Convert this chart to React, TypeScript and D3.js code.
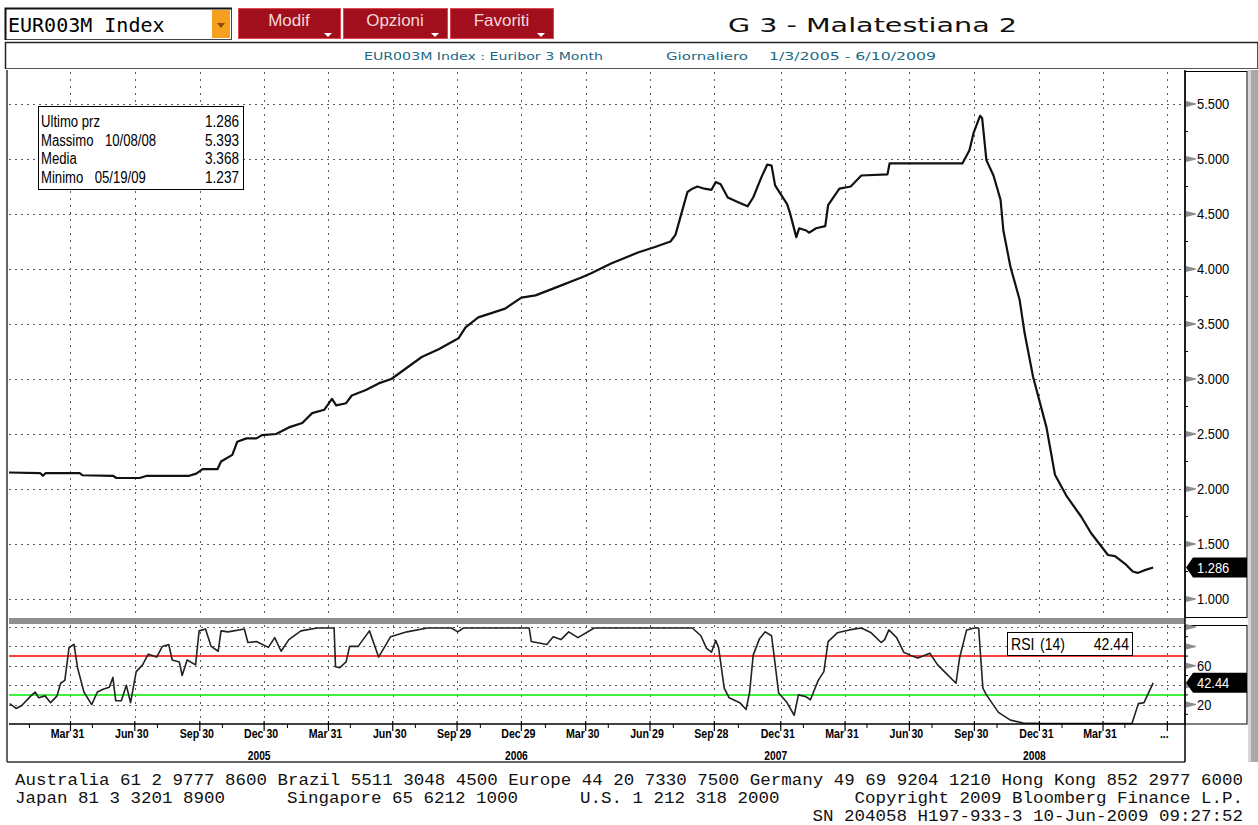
import * as d3 from "d3";

// EUR003M Index (Euribor 3 mesi), daily, 1/3/2005 - 6/10/2009
const priceData: [string, number][] = [
  ["2005-01-03", 2.15], ["2005-02-16", 2.145], ["2005-02-20", 2.12], ["2005-02-24", 2.145],
  ["2005-03-26", 2.145], ["2005-04-13", 2.145], ["2005-04-17", 2.125], ["2005-05-30", 2.12],
  ["2005-06-04", 2.1], ["2005-07-07", 2.1], ["2005-07-17", 2.12], ["2005-09-15", 2.12],
  ["2005-09-25", 2.14], ["2005-10-04", 2.18], ["2005-10-25", 2.18], ["2005-10-30", 2.25],
  ["2005-11-15", 2.31], ["2005-11-22", 2.43], ["2005-12-05", 2.46], ["2005-12-19", 2.46],
  ["2005-12-27", 2.49], ["2006-01-16", 2.5], ["2006-02-03", 2.56], ["2006-02-22", 2.6],
  ["2006-03-08", 2.69], ["2006-03-25", 2.72], ["2006-04-05", 2.82], ["2006-04-11", 2.76],
  ["2006-04-25", 2.78], ["2006-05-03", 2.85], ["2006-05-23", 2.9], ["2006-06-10", 2.96],
  ["2006-06-28", 3.0], ["2006-08-10", 3.2], ["2006-09-03", 3.27], ["2006-10-01", 3.37],
  ["2006-10-11", 3.47], ["2006-10-29", 3.56], ["2006-12-06", 3.64], ["2006-12-29", 3.74],
  ["2007-01-18", 3.76], ["2007-02-19", 3.84], ["2007-03-23", 3.92], ["2007-04-06", 3.96],
  ["2007-05-05", 4.05], ["2007-06-12", 4.15], ["2007-07-06", 4.2], ["2007-07-28", 4.25],
  ["2007-08-04", 4.31], ["2007-08-14", 4.54], ["2007-08-21", 4.7], ["2007-08-28", 4.73],
  ["2007-09-04", 4.75], ["2007-09-14", 4.73], ["2007-09-24", 4.72], ["2007-09-30", 4.79],
  ["2007-10-07", 4.77], ["2007-10-17", 4.65], ["2007-10-31", 4.61], ["2007-11-14", 4.57],
  ["2007-11-22", 4.65], ["2007-12-04", 4.84], ["2007-12-12", 4.95], ["2007-12-18", 4.94],
  ["2007-12-23", 4.76], ["2007-12-30", 4.69], ["2008-01-09", 4.59], ["2008-01-13", 4.51],
  ["2008-01-22", 4.29], ["2008-01-26", 4.37], ["2008-02-05", 4.35], ["2008-02-09", 4.33],
  ["2008-02-19", 4.37], ["2008-03-03", 4.39], ["2008-03-07", 4.58], ["2008-03-23", 4.73],
  ["2008-04-08", 4.75], ["2008-04-23", 4.85], ["2008-05-30", 4.86], ["2008-06-02", 4.96],
  ["2008-07-29", 4.96], ["2008-09-13", 4.96], ["2008-09-23", 5.08], ["2008-09-29", 5.24],
  ["2008-10-08", 5.393], ["2008-10-11", 5.37], ["2008-10-17", 4.99], ["2008-10-27", 4.85],
  ["2008-11-06", 4.63], ["2008-11-10", 4.35], ["2008-11-20", 4.02], ["2008-12-03", 3.72],
  ["2008-12-10", 3.42], ["2008-12-22", 3.02], ["2009-01-10", 2.56], ["2009-01-22", 2.13],
  ["2009-02-08", 1.93], ["2009-02-28", 1.75], ["2009-03-14", 1.6], ["2009-04-07", 1.4],
  ["2009-04-17", 1.39], ["2009-05-03", 1.31], ["2009-05-12", 1.25], ["2009-05-19", 1.237],
  ["2009-05-28", 1.26], ["2009-06-10", 1.286],
];

// RSI (14)
const rsiData: [string, number][] = [
  ["2005-01-04", 21], ["2005-01-13", 16], ["2005-01-21", 19], ["2005-02-03", 29], ["2005-02-09", 33],
  ["2005-02-14", 27], ["2005-02-23", 29], ["2005-03-03", 22], ["2005-03-12", 29], ["2005-03-17", 42],
  ["2005-03-23", 45], ["2005-03-29", 79], ["2005-04-05", 82], ["2005-04-10", 58], ["2005-04-19", 33],
  ["2005-04-30", 20], ["2005-05-08", 33], ["2005-05-17", 36], ["2005-05-25", 38], ["2005-05-30", 48],
  ["2005-06-03", 24], ["2005-06-11", 24], ["2005-06-18", 40], ["2005-06-24", 22], ["2005-07-02", 54],
  ["2005-07-11", 61], ["2005-07-19", 72], ["2005-07-31", 69], ["2005-08-08", 80], ["2005-08-17", 82],
  ["2005-08-22", 66], ["2005-09-01", 64], ["2005-09-05", 50], ["2005-09-12", 66], ["2005-09-24", 61],
  ["2005-09-29", 96], ["2005-10-08", 98], ["2005-10-16", 80], ["2005-10-26", 75], ["2005-10-30", 96],
  ["2005-11-09", 95], ["2005-12-02", 98], ["2005-12-07", 84], ["2005-12-19", 85], ["2006-01-05", 79],
  ["2006-01-14", 89], ["2006-01-23", 75], ["2006-02-03", 87], ["2006-02-20", 96], ["2006-03-15", 99],
  ["2006-04-08", 99], ["2006-04-10", 59], ["2006-04-16", 58], ["2006-04-25", 64], ["2006-04-30", 80],
  ["2006-05-12", 80], ["2006-05-28", 96], ["2006-06-10", 69], ["2006-06-27", 90], ["2006-07-20", 95],
  ["2006-08-18", 99], ["2006-09-21", 99], ["2006-09-30", 95], ["2006-10-08", 99], ["2006-12-10", 99],
  ["2007-01-09", 99], ["2007-01-12", 85], ["2007-02-03", 82], ["2007-02-12", 90], ["2007-02-23", 87],
  ["2007-03-06", 95], ["2007-03-19", 89], ["2007-04-11", 99], ["2007-06-12", 99], ["2007-08-28", 99],
  ["2007-09-09", 91], ["2007-09-17", 78], ["2007-09-24", 74], ["2007-09-30", 86], ["2007-10-04", 79],
  ["2007-10-12", 37], ["2007-10-19", 27], ["2007-11-03", 22], ["2007-11-12", 15], ["2007-11-17", 33],
  ["2007-11-22", 71], ["2007-12-01", 88], ["2007-12-09", 95], ["2007-12-18", 91], ["2007-12-22", 68],
  ["2007-12-28", 32], ["2008-01-08", 23], ["2008-01-19", 9], ["2008-01-25", 30], ["2008-02-05", 28],
  ["2008-02-11", 25], ["2008-02-22", 45], ["2008-03-01", 54], ["2008-03-07", 85], ["2008-03-20", 94],
  ["2008-04-06", 97], ["2008-04-23", 99], ["2008-05-07", 94], ["2008-05-21", 84], ["2008-05-26", 87],
  ["2008-06-01", 97], ["2008-06-12", 89], ["2008-06-22", 74], ["2008-07-01", 71], ["2008-07-12", 68],
  ["2008-07-29", 73], ["2008-08-09", 61], ["2008-08-20", 53], ["2008-09-04", 42], ["2008-09-09", 68],
  ["2008-09-19", 97], ["2008-09-30", 99], ["2008-10-06", 99], ["2008-10-12", 37], ["2008-10-17", 30],
  ["2008-11-03", 12], ["2008-11-20", 4], ["2008-12-08", 1], ["2009-01-06", 0.5], ["2009-05-11", 0.5],
  ["2009-05-20", 21], ["2009-05-28", 22], ["2009-06-10", 42.44],
];

const priceTicks = [1, 1.5, 2, 2.5, 3, 3.5, 4, 4.5, 5, 5.5];
const priceMinor = [1.25, 1.75, 2.25, 2.75, 3.25, 3.75, 4.25, 4.75, 5.25];
const rsiTicks = [20, 40, 60, 80, 100];
const rsiLabelled = [20, 60];
const rsiMinor = [10, 30, 50, 70, 90];
const rsiOver = 70;
const rsiUnder = 30;

const quarterTicks: [string, string][] = [
  ["2005-03-31", "Mar 31"], ["2005-06-30", "Jun 30"], ["2005-09-30", "Sep 30"], ["2005-12-30", "Dec 30"],
  ["2006-03-31", "Mar 31"], ["2006-06-30", "Jun 30"], ["2006-09-29", "Sep 29"], ["2006-12-29", "Dec 29"],
  ["2007-03-30", "Mar 30"], ["2007-06-29", "Jun 29"], ["2007-09-28", "Sep 28"], ["2007-12-31", "Dec 31"],
  ["2008-03-31", "Mar 31"], ["2008-06-30", "Jun 30"], ["2008-09-30", "Sep 30"], ["2008-12-31", "Dec 31"],
  ["2009-03-31", "Mar 31"], ["2009-06-30", "..."],
];
const yearLabels: [string, string][] = [
  ["2005-12-30", "2005"], ["2006-12-29", "2006"], ["2007-12-31", "2007"], ["2008-12-31", "2008"],
];

const legendRows = [
  { label: "Ultimo prz", date: "", value: "1.286" },
  { label: "Massimo", date: "10/08/08", value: "5.393" },
  { label: "Media", date: "", value: "3.368" },
  { label: "Minimo", date: "05/19/09", value: "1.237" },
];
const lastPrice = 1.286;
const lastRsi = 42.44;

const footer2 = [
  { text: "Japan 81 3 3201 8900", x: 15 },
  { text: "Singapore 65 6212 1000", x: 287 },
  { text: "U.S. 1 212 318 2000", x: 580 },
];

const parse = d3.timeParse("%Y-%m-%d");
const SANS = "Liberation Sans, Arial, sans-serif";
const MONO = "DejaVu Sans Mono, monospace";
const FOOT = "Liberation Mono, DejaVu Sans Mono, monospace";
const crisp = (v: number) => Math.round(v) + 0.5;

function NText({ x, y, anchor = "start", size = 14, weight = "normal", sx = 0.85, fill = "#000", children }: any) {
  return (
    <text
      transform={`translate(${x},${y}) scale(${sx},1)`}
      textAnchor={anchor}
      fontSize={size}
      fontWeight={weight}
      fill={fill}
      fontFamily={SANS}
    >
      {children}
    </text>
  );
}

export default function App() {
  const L = 9, R = 1185;
  const x = d3.scaleTime().domain([parse("2005-01-03")!, parse("2009-07-25")!]).range([L, R]);
  const y = d3.scaleLinear().domain([1, 5.5]).range([599, 104]);
  const yr = d3.scaleLinear().domain([0, 100]).range([724, 627]);

  const price = priceData.map(([d, v]) => ({ d: parse(d)!, v }));
  const rsi = rsiData.map(([d, v]) => ({ d: parse(d)!, v }));
  const priceLine = d3.line<{ d: Date; v: number }>().x((p) => x(p.d)).y((p) => y(p.v))(price)!;
  const rsiLine = d3.line<{ d: Date; v: number }>().x((p) => x(p.d)).y((p) => yr(p.v))(rsi)!;

  const qx = quarterTicks.map(([d, t]) => ({ x: x(parse(d)!), t }));
  const minorX = d3.timeMonth.range(new Date(2005, 1, 1), new Date(2009, 6, 20), 3).map((d) => x(d));

  // dotted grid drawn as paths
  const hPaths = [...priceTicks.map((v) => crisp(y(v))), ...rsiTicks.map((v) => crisp(yr(v)))]
    .map((yy) => `M${L},${yy}H${R}`)
    .join("");
  const vPaths = qx
    .map((q) => `M${crisp(q.x)},72V617M${crisp(q.x)},625V723`)
    .join("");

  const wedge = (yy: number) => `M1186,${yy - 3}L1196,${yy - 0.5}L1196,${yy + 0.5}L1186,${yy + 3}Z`;
  const tag = (yy: number) => `M1186,${yy}L1193,${yy - 10}L1247,${yy - 10}L1247,${yy + 10}L1193,${yy + 10}Z`;

  const py = y(lastPrice);
  const ry = yr(lastRsi);

  const buttons = [
    { t: "Modif", x: 238, w: 102 },
    { t: "Opzioni", x: 343, w: 104 },
    { t: "Favoriti", x: 450, w: 103 },
  ];

  return (
    <div style={{ position: "fixed", left: 0, top: 0 }}>
      <svg width={1258} height={825} style={{ display: "block", background: "#fff" }}>
        {/* header */}
        <rect x={5.5} y={8.5} width={226} height={31} fill="#fff" stroke="#444" />
        <path d="M5.5,40V8.5H232" fill="none" stroke="#111" strokeWidth={2} />
        <text x={8} y={32} fontFamily={MONO} fontSize={20} fill="#000">EUR003M Index</text>
        <rect x={212} y={10} width={18} height={28} fill="#f5a01e" />
        <path d="M217,23L225,23L221,28Z" fill="#8a4b00" />
        {buttons.map((b) => (
          <g key={b.t}>
            <rect x={b.x + 0.5} y={8.5} width={b.w} height={30} fill="#a10e1c" stroke="#e0464e" />
            <text x={b.x + b.w / 2} y={26} textAnchor="middle" fontFamily={SANS} fontSize={17} fill="#f4d8d8">
              {b.t}
            </text>
            <path d={`M${b.x + b.w - 16},33L${b.x + b.w - 8},33L${b.x + b.w - 12},37Z`} fill="#fff" />
          </g>
        ))}
        <text x={728} y={32} fontFamily="DejaVu Sans Condensed, DejaVu Sans, sans-serif" fontSize={20} textLength={289} lengthAdjust="spacingAndGlyphs" fill="#111">
          G 3 - Malatestiana 2
        </text>
        <rect x={5.5} y={42.5} width={1252} height={26} fill="#fff" stroke="#555" />
        <path d="M5.5,69V42.5H1258" fill="none" stroke="#222" strokeWidth={1.5} />
        <text x={364} y={60} fontFamily="DejaVu Sans, sans-serif" fontSize={11} textLength={239} lengthAdjust="spacingAndGlyphs" fill="#1c6a85">
          EUR003M Index : Euribor 3 Month
        </text>
        <text x={666} y={60} fontFamily="DejaVu Sans, sans-serif" fontSize={11} textLength={82} lengthAdjust="spacingAndGlyphs" fill="#1c6a85">
          Giornaliero
        </text>
        <text x={769} y={60} fontFamily="DejaVu Sans, sans-serif" fontSize={11} textLength={167} lengthAdjust="spacingAndGlyphs" fill="#1c6a85">
          1/3/2005 - 6/10/2009
        </text>

        {/* right grey strip */}
        <rect x={1248} y={70} width={3} height={692} fill="#d6d6d6" />
        <rect x={1251} y={70} width={7} height={692} fill="#a9a9a9" />

        {/* grids */}
        <path d={hPaths} fill="none" stroke="#5a5a5a" strokeWidth={1} strokeDasharray="2,4" />
        <path d={vPaths} fill="none" stroke="#5a5a5a" strokeWidth={1} strokeDasharray="2,5" />

        {/* panel separator */}
        <rect x={L} y={618} width={R - L} height={6} fill="#8f8f8f" />

        {/* price line */}
        <path d={priceLine} fill="none" stroke="#111" strokeWidth={2.2} strokeLinejoin="round" />

        {/* legend */}
        <rect x={38.5} y={106.5} width={205} height={83} fill="#fff" stroke="#000" />
        {legendRows.map((r, i) => (
          <g key={r.label}>
            <NText x={41} y={127 + i * 18.5} size={16} sx={0.82}>
              {r.label}
              {r.date ? <tspan dx={14}>{r.date}</tspan> : null}
            </NText>
            <NText x={239} y={127 + i * 18.5} size={16} sx={0.85} anchor="end">
              {r.value}
            </NText>
          </g>
        ))}

        {/* RSI */}
        <line x1={L} x2={R} y1={yr(rsiOver)} y2={yr(rsiOver)} stroke="#ff0000" strokeWidth={1.5} />
        <line x1={L} x2={R} y1={yr(rsiUnder)} y2={yr(rsiUnder)} stroke="#00ee00" strokeWidth={1.5} />
        <path d={rsiLine} fill="none" stroke="#222" strokeWidth={1.6} strokeLinejoin="round" />
        <rect x={1007.5} y={632.5} width={125} height={23} fill="#fff" stroke="#000" />
        <NText x={1011} y={650} size={16} sx={0.88}>RSI</NText>
        <NText x={1040} y={650} size={16} sx={0.88}>(14)</NText>
        <NText x={1129} y={650} size={16} sx={0.88} anchor="end">{d3.format(".2f")(lastRsi)}</NText>

        {/* frames */}
        <line x1={7} x2={7} y1={70} y2={762} stroke="#333" strokeWidth={1.5} />
        <line x1={7} x2={R} y1={762} y2={762} stroke="#333" strokeWidth={1.5} />
        <line x1={L} x2={R} y1={724} y2={724} stroke="#000" strokeWidth={1.5} />
        <line x1={R} x2={R} y1={70} y2={762} stroke="#000" strokeWidth={1.5} />
        <rect x={R} y={71.5} width={62} height={546} fill="none" stroke="#000" />
        <rect x={R} y={625.5} width={62} height={98.5} fill="none" stroke="#000" />

        {/* right price axis */}
        {priceTicks.map((v) => (
          <g key={"pt" + v}>
            <path d={wedge(y(v))} fill="#8c8c8c" />
            <NText x={1197} y={y(v) + 5} size={14} sx={0.92}>
              {d3.format(".3f")(v)}
            </NText>
          </g>
        ))}
        {priceMinor.map((v) => (
          <line key={"pm" + v} x1={R} x2={R + 3} y1={y(v)} y2={y(v)} stroke="#000" />
        ))}
        <path d={tag(py)} fill="#000" />
        <NText x={1197} y={py + 5} size={14} sx={0.92} fill="#fff">
          {d3.format(".3f")(lastPrice)}
        </NText>

        {/* right RSI axis */}
        {rsiTicks.map((v) => (
          <path key={"rt" + v} d={wedge(yr(v))} fill="#8c8c8c" />
        ))}
        {rsiMinor.map((v) => (
          <line key={"rm" + v} x1={R} x2={R + 3} y1={yr(v)} y2={yr(v)} stroke="#000" />
        ))}
        {rsiLabelled.map((v) => (
          <NText key={"rl" + v} x={1197} y={yr(v) + 5} size={14} sx={0.92}>
            {v}
          </NText>
        ))}
        <path d={tag(ry)} fill="#000" />
        <NText x={1197} y={ry + 5} size={14} sx={0.92} fill="#fff">
          {d3.format(".2f")(lastRsi)}
        </NText>

        {/* x axis */}
        {minorX.map((mx, i) => (
          <line key={"mx" + i} x1={mx} x2={mx} y1={724} y2={728} stroke="#000" />
        ))}
        {qx.map((q, i) => (
          <g key={"xt" + i}>
            <line x1={q.x} x2={q.x} y1={721} y2={731} stroke="#000" strokeWidth={1.2} />
            <NText x={q.x - 3} y={738} size={12.5} weight="bold" sx={0.85} anchor="middle">
              {q.t}
            </NText>
          </g>
        ))}
        {yearLabels.map(([d, t]) => (
          <NText key={t} x={x(parse(d)!) - 5} y={760} size={12.5} weight="bold" sx={0.82} anchor="middle">
            {t}
          </NText>
        ))}

        {/* footer */}
        <text x={15} y={785} fontFamily={FOOT} fontSize={16} textLength={1228} lengthAdjust="spacingAndGlyphs" fill="#111">
          Australia 61 2 9777 8600 Brazil 5511 3048 4500 Europe 44 20 7330 7500 Germany 49 69 9204 1210 Hong Kong 852 2977 6000
        </text>
        {footer2.map((f) => (
          <text key={f.text} x={f.x} y={803} fontFamily={FOOT} fontSize={16} textLength={f.text.length * 10.5} lengthAdjust="spacingAndGlyphs" fill="#111">
            {f.text}
          </text>
        ))}
        <text x={1243 - 37 * 10.5} y={803} fontFamily={FOOT} fontSize={16} textLength={37 * 10.5} lengthAdjust="spacingAndGlyphs" fill="#111">
          Copyright 2009 Bloomberg Finance L.P.
        </text>
        <text x={1243 - 41 * 10.5} y={821} fontFamily={FOOT} fontSize={16} textLength={41 * 10.5} lengthAdjust="spacingAndGlyphs" fill="#111">
          SN 204058 H197-933-3 10-Jun-2009 09:27:52
        </text>
      </svg>
    </div>
  );
}
